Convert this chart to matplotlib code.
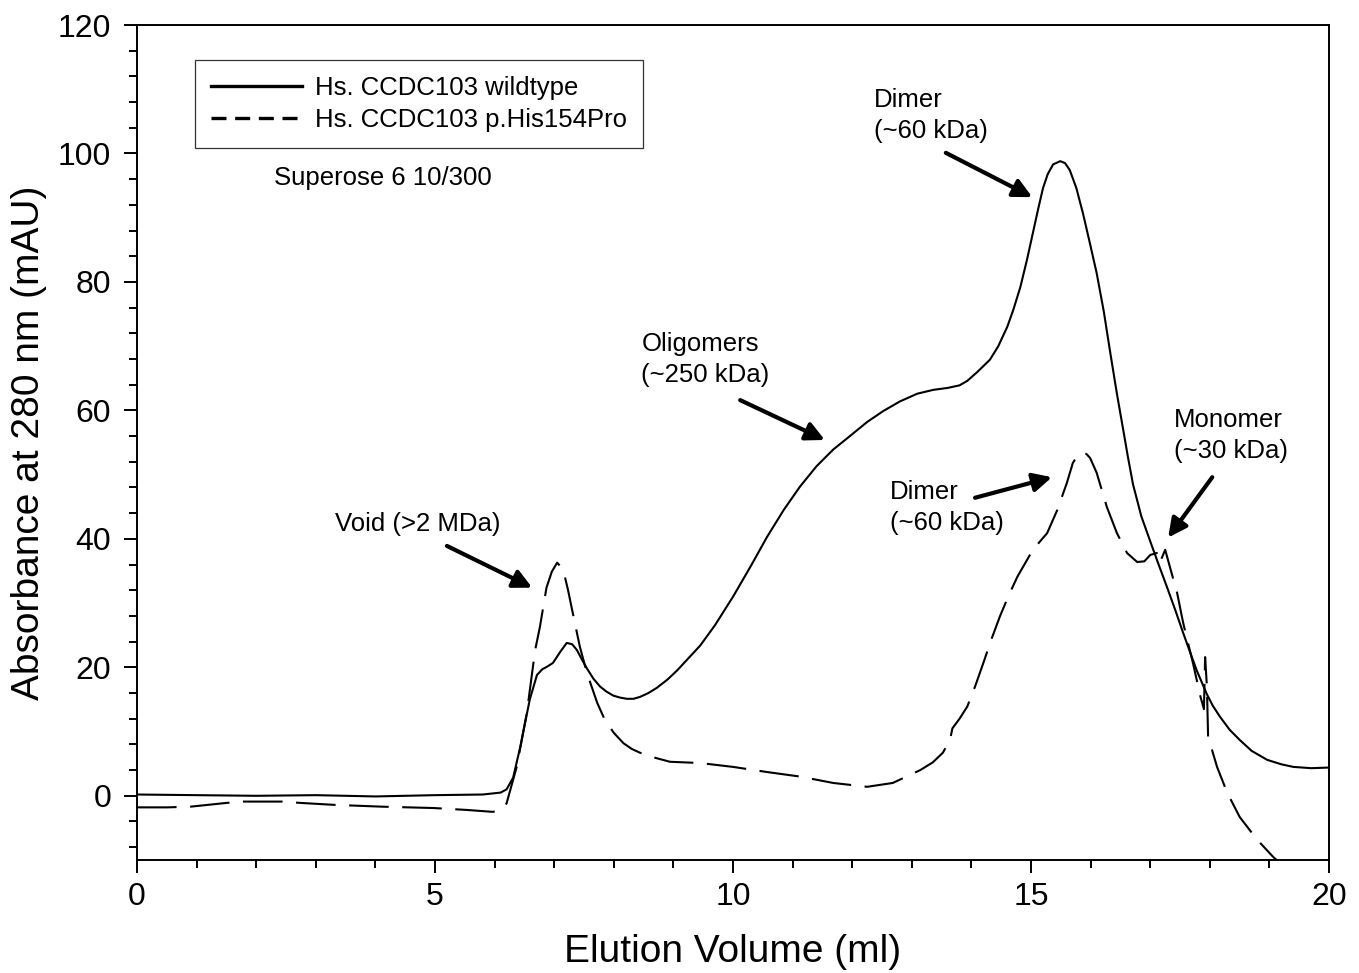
import numpy as np
import matplotlib
matplotlib.use("Agg")
import matplotlib.pyplot as plt
from matplotlib.lines import Line2D
from matplotlib.ticker import MultipleLocator

plt.rcParams['font.family'] = ['Liberation Sans', 'DejaVu Sans']

# wildtype trace (ml, mAU)
wt_ml = [0.0, 1.0, 2.0, 3.0, 4.0, 5.0, 5.8, 6.1, 6.2, 6.31, 6.43, 6.59, 6.71, 6.8, 6.88,
         6.98, 7.1, 7.21, 7.3, 7.38, 7.46, 7.55, 7.66, 7.77, 7.88, 7.99, 8.1, 8.22, 8.33,
         8.44, 8.58, 8.72, 8.9, 9.06, 9.2, 9.45, 9.7, 10.0, 10.3, 10.57, 10.85, 11.12,
         11.4, 11.68, 11.96, 12.25, 12.52, 12.8, 13.09, 13.36, 13.6, 13.8, 13.93, 14.1,
         14.31, 14.45, 14.6, 14.7, 14.82, 14.93, 15.03, 15.12, 15.2, 15.28, 15.37, 15.49,
         15.57, 15.65, 15.76, 15.87, 15.98, 16.1, 16.22, 16.33, 16.44, 16.54, 16.62, 16.71,
         16.85, 17.0, 17.14, 17.28, 17.42, 17.55, 17.67, 17.78, 17.95, 18.05, 18.17, 18.33,
         18.5, 18.7, 18.96, 19.2, 19.4, 19.7, 20.0]
wt_mau = [0.2, 0.1, 0.0, 0.1, -0.1, 0.1, 0.2, 0.5, 1.0, 2.8, 7.6, 15.0, 18.8, 19.7, 20.1,
          20.7, 22.4, 23.8, 23.6, 22.7, 21.3, 19.8, 18.2, 17.0, 16.2, 15.6, 15.3, 15.1, 15.1,
          15.4, 16.0, 16.8, 18.1, 19.5, 20.9, 23.4, 26.6, 31.0, 35.8, 40.3, 44.5, 48.1,
          51.3, 53.9, 56.0, 58.2, 59.9, 61.4, 62.6, 63.2, 63.5, 63.9, 64.6, 66.0,
          67.9, 70.0, 73.0, 75.6, 79.2, 83.4, 87.6, 91.4, 94.6, 96.8, 98.3, 98.8,
          98.5, 97.4, 94.6, 90.7, 86.3, 81.4, 75.4, 68.9, 62.6, 57.3, 53.0, 48.5,
          43.5, 39.6, 36.0, 32.5, 28.9, 25.4, 22.3, 19.5, 15.8, 14.0, 12.3, 10.3,
          8.7, 7.0, 5.6, 4.9, 4.5, 4.3, 4.4]

# p.His154Pro trace
mut_ml = [0.0, 0.5, 0.89, 1.51, 1.78, 2.45, 2.73, 3.29, 4.13, 4.97, 5.53, 5.97, 6.1,
          6.2, 6.37, 6.54, 6.68, 6.76, 6.87, 6.96, 7.05, 7.15, 7.23, 7.29, 7.43, 7.55,
          7.72, 7.85, 8.0, 8.16, 8.3, 8.44, 8.7, 8.94, 9.45, 10.0, 10.57, 11.12, 11.68,
          12.25, 12.68, 13.14, 13.35, 13.52, 13.64, 13.68, 13.8, 13.93, 14.06, 14.2, 14.34,
          14.48, 14.63, 14.77, 15.03, 15.27, 15.44, 15.6, 15.7, 15.78, 15.86, 15.93, 15.99,
          16.1, 16.27, 16.44, 16.61, 16.78, 16.9, 17.0, 17.11, 17.16, 17.25, 17.33, 17.45,
          17.55, 17.62, 17.72, 17.84, 17.9, 17.92, 17.95, 17.97, 18.12, 18.29, 18.5,
          18.79, 19.06, 19.3]
mut_mau = [-1.8, -1.8, -1.7, -1.1, -0.9, -0.9, -1.1, -1.4, -1.7, -1.9, -2.2, -2.5, -2.2,
           -1.2, 4.5, 12.9, 22.7, 26.3, 32.4, 34.9, 36.3, 35.2, 32.1, 29.4, 23.2, 19.1,
           14.5, 11.8, 9.8, 8.2, 7.3, 6.7, 5.9, 5.3, 5.1, 4.5, 3.7, 3.0, 2.0,
           1.4, 2.0, 4.0, 5.2, 6.7, 8.7, 10.5, 12.0, 13.9, 17.0, 20.7, 24.5,
           28.0, 31.3, 34.1, 38.3, 40.9, 44.5, 48.7, 51.8, 53.0, 53.4, 53.2, 52.6,
           50.3, 45.0, 40.9, 37.8, 36.4, 36.5, 37.5, 37.8, 36.3, 38.3, 35.6, 31.6,
           27.0, 24.3, 20.5, 15.5, 13.5, 21.6, 17.0, 9.2, 4.5, 0.5, -3.3,
           -6.8, -9.5, -11.5]

labels = ['Hs. CCDC103 wildtype', 'Hs. CCDC103 p.His154Pro']

fig = plt.figure(figsize=(13.59, 9.73), dpi=100)
ax = fig.add_axes([0.1008, 0.1161, 0.8772, 0.8582])

ax.plot(wt_ml, wt_mau, color='black', lw=1.5)
ax.plot(mut_ml, mut_mau, color='black', lw=1.5, linestyle=(0, (19, 6.5)))

ax.set_xlim(0, 20)
ax.set_ylim(-10, 120)
ax.xaxis.set_major_locator(MultipleLocator(5))
ax.xaxis.set_minor_locator(MultipleLocator(1))
ax.set_yticks([0, 20, 40, 60, 80, 100, 120])
ax.yaxis.set_minor_locator(MultipleLocator(4))
ax.tick_params(which='major', length=9.5, width=1.4, labelsize=23)
ax.tick_params(axis='y', which='major', pad=9)
ax.tick_params(axis='x', which='major', pad=6)
ax.tick_params(which='minor', length=6, width=1.4)
ax.tick_params(axis='y', which='both', right=False)
ax.tick_params(axis='x', which='both', top=False)
for s in ax.spines.values():
    s.set_linewidth(1.4)

ax.set_xlabel('Elution Volume (ml)', fontsize=28, labelpad=16)
ax.set_ylabel('Absorbance at 280 nm (mAU)', fontsize=28, labelpad=8)

handles = [Line2D([], [], color='black', lw=2.4),
           Line2D([], [], color='black', lw=2.4, linestyle=(0, (4.5, 2.6)))]
leg = ax.legend(handles, labels, loc='upper left', bbox_to_anchor=(0.0487, 0.958),
                fontsize=18.5, frameon=True, fancybox=False, edgecolor='black',
                handlelength=3.55, handletextpad=0.5, borderpad=0.62,
                labelspacing=0.3, borderaxespad=0)
leg.get_frame().set_linewidth(0.9)

txt = 18.5
ls = 1.38
ax.text(2.30, 96.2, 'Superose 6 10/300', fontsize=txt, va='center')
ax.text(3.32, 42.3, 'Void (>2 MDa)', fontsize=txt, va='center')
ax.text(8.46, 67.9, 'Oligomers\n(~250 kDa)', fontsize=txt, va='center', linespacing=ls)
ax.text(12.37, 105.9, 'Dimer\n(~60 kDa)', fontsize=txt, va='center', linespacing=ls)
ax.text(12.63, 44.9, 'Dimer\n(~60 kDa)', fontsize=txt, va='center', linespacing=ls)
ax.text(17.4, 56.1, 'Monomer\n(~30 kDa)', fontsize=txt, va='center', linespacing=ls)

arrows = [((5.2, 38.9), (6.63, 32.4)),
          ((10.12, 61.6), (11.54, 55.4)),
          ((13.57, 100.1), (15.02, 93.2)),
          ((14.06, 46.4), (15.35, 49.6)),
          ((18.04, 49.6), (17.3, 40.2))]
for tail, head in arrows:
    ax.annotate('', xy=head, xytext=tail,
                arrowprops=dict(arrowstyle='-|>', color='black', lw=3,
                                mutation_scale=28, shrinkA=0, shrinkB=0))

fig.savefig('out.png', dpi=100)
